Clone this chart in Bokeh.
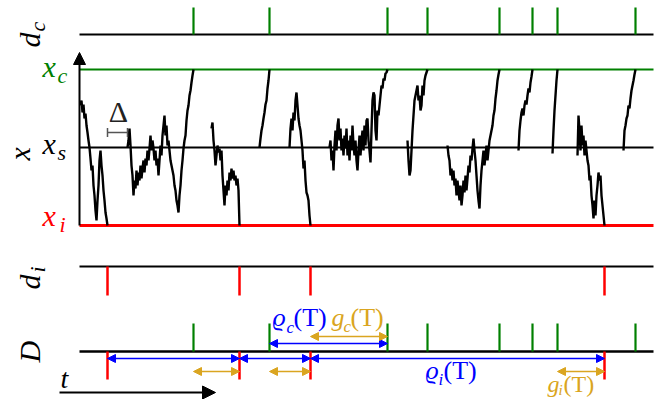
import math
from bokeh.plotting import figure
from bokeh.models import Range1d, Arrow, NormalHead, TeeHead, Label, ColumnDataSource
from bokeh.embed import file_html
from bokeh.resources import INLINE

# ---------------- data (time in arbitrary units, signal levels) ----------------
T_START, T_END = 79, 653
red_events = [107, 239, 310, 604]                         # x hits x_i  (d_i)
green_events = [193, 269, 387, 427, 499, 532, 557, 635]   # x hits x_c  (d_c)
dead_time = 20                                            # Delta
level_i, level_s, level_c = 0, 78, 156                    # x_i, x_s, x_c

restart_times = [80, 127, 211, 259, 289, 329, 407, 447, 518, 552, 577, 623]
trace_1 = [120, 125, 113, 121, 107, 112, 100, 93, 85, 78, 67, 55, 60, 40, 30, 15, 5, 25, 40, 65,
           75, 60, 50, 35, 25, 13, 7, 0]
trace_2 = [78, 85, 97, 80, 60, 50, 30, 45, 37, 55, 40, 53, 45, 60, 47, 57, 65, 53, 67, 60, 75, 65,
           77, 90, 75, 85, 77, 65, 75, 60, 67, 50, 65, 80, 70, 90, 100, 110, 90, 100, 80, 85, 75,
           65, 60, 55, 50, 40, 35, 25, 20, 13, 30, 40, 55, 65, 77, 85, 90, 105, 115, 120, 130, 135,
           143, 150, 156]
trace_3 = [97, 103, 85, 75, 60, 70, 80, 73, 77, 65, 75, 50, 35, 20, 40, 30, 45, 35, 53, 45, 57, 47,
           55, 45, 50, 40, 47, 35, 0]
trace_4 = [78, 87, 95, 100, 107, 113, 121, 125, 137, 145, 156]
trace_5 = [78, 97, 107, 95, 113, 105, 125, 133, 120, 107, 100, 95, 85, 75, 57, 65, 45, 33, 30, 25,
           10, 0]
trace_6 = [78, 85, 65, 75, 55, 80, 95, 75, 100, 107, 85, 97, 75, 87, 70, 90, 77, 97, 70, 85, 65, 90,
           75, 100, 80, 70, 85, 65, 55, 75, 90, 70, 85, 95, 75, 100, 80, 105, 107, 85, 75, 63, 95,
           125, 133, 130, 95, 85, 115, 110, 120, 130, 140, 137, 147, 145, 152, 153, 156]
trace_7 = [85, 65, 50, 55, 75, 95, 110, 125, 130, 135, 140, 125, 130, 115, 120, 140, 130, 145, 150,
           153, 156]
trace_8 = [80, 70, 65, 50, 57, 45, 55, 40, 47, 30, 45, 35, 25, 40, 20, 30, 45, 33, 50, 35, 47, 60,
           53, 70, 65, 77, 87, 75, 65, 50, 35, 25, 17, 40, 55, 65, 75, 60, 70, 80, 65, 75, 85, 90,
           95, 100, 110, 115, 127, 135, 145, 151, 156]
trace_9 = [75, 95, 105, 113, 117, 110, 120, 125, 121, 130, 137, 133, 143, 149, 156]
trace_10 = [72, 95, 115, 130, 145, 156]
trace_11 = [70, 110, 95, 75, 100, 80, 90, 70, 85, 75, 65, 60, 45, 50, 30, 20, 7, 25, 10, 30, 40, 53,
            45, 50, 30, 20, 10, 0]
trace_12 = [75, 95, 100, 107, 110, 120, 117, 127, 135, 140, 145, 151, 156]
traces = [trace_1, trace_2, trace_3, trace_4, trace_5, trace_6, trace_7, trace_8, trace_9,
          trace_10, trace_11, trace_12]

rho_i_spans = [(107, 239), (239, 310), (310, 604)]
rho_c_spans = [(269, 387)]
g_c_spans = [(310, 387)]
g_i_spans = [(193, 239), (269, 310), (557, 604)]

# ---------------- layout (picture pixels) ----------------
W, H = 666, 399
Y_XI, Y_XC = 225, 69
ROW_DC, ROW_DI, ROW_D = 34, 266, 351
GREEN, RED, BLUE, GOLD = "#008000", "#ff0000", "#0000ff", "#DAA520"
SERIF = "Liberation Serif"

p = figure(width=W, height=H, x_range=Range1d(0, W), y_range=Range1d(H, 0),
           output_backend="svg", toolbar_location=None,
           x_axis_type=None, y_axis_type=None, min_border=0)
p.outline_line_color = None
p.grid.visible = False

scale = (level_c - level_i) / (Y_XI - Y_XC)
p.extra_y_ranges = {"sig": Range1d(start=level_i - (H - Y_XI) * scale,
                                   end=level_i + Y_XI * scale)}

# level lines
for lev, col, lw in [(level_c, GREEN, 2.2), (level_s, "black", 1.8), (level_i, RED, 2.8)]:
    p.segment(x0=[T_START], x1=[T_END], y0=[lev], y1=[lev], y_range_name="sig",
              line_color=col, line_width=lw)

# trace
xs = [list(range(s, s + len(v))) for s, v in zip(restart_times, traces)]
p.multi_line(xs=xs, ys=traces, y_range_name="sig", line_color="black", line_width=2.4)

# vertical axis arrow
p.add_layout(Arrow(x_start=T_START, y_start=level_i, x_end=T_START, y_end=level_c + 17 * scale,
                   y_range_name="sig", line_width=2, line_color="black",
                   end=NormalHead(size=12, fill_color="black", line_color="black")))

# row lines
for row, lw in [(ROW_DC, 2), (ROW_DI, 2), (ROW_D, 2.5)]:
    p.segment(x0=[T_START], x1=[T_END], y0=[row], y1=[row], line_color="black", line_width=lw)

# event ticks
p.segment(x0=green_events, x1=green_events, y0=[ROW_DC - 27] * len(green_events),
          y1=[ROW_DC] * len(green_events), line_color=GREEN, line_width=2.2)
p.segment(x0=red_events, x1=red_events, y0=[ROW_DI] * len(red_events),
          y1=[ROW_DI + 29] * len(red_events), line_color=RED, line_width=2.5)
p.segment(x0=green_events, x1=green_events, y0=[ROW_D - 28] * len(green_events),
          y1=[ROW_D] * len(green_events), line_color=GREEN, line_width=2.2)
p.segment(x0=red_events, x1=red_events, y0=[ROW_D] * len(red_events),
          y1=[ROW_D + 28] * len(red_events), line_color=RED, line_width=2.5)


def span_arrows(spans, y, color, size=8):
    src = ColumnDataSource(dict(x0=[a for a, b in spans], x1=[b for a, b in spans],
                                y=[y] * len(spans)))
    p.add_layout(Arrow(x_start="x0", x_end="x1", y_start="y", y_end="y", source=src,
                       line_color=color, line_width=1.6,
                       start=NormalHead(size=size, fill_color=color, line_color=color),
                       end=NormalHead(size=size, fill_color=color, line_color=color)))


span_arrows(rho_i_spans, ROW_D + 7, BLUE)
span_arrows(rho_c_spans, ROW_D - 8, BLUE)
span_arrows(g_c_spans, ROW_D - 15, GOLD)
span_arrows(g_i_spans, ROW_D + 20, GOLD)

# t arrow
p.add_layout(Arrow(x_start=59, x_end=215, y_start=392, y_end=392, line_width=2,
                   end=NormalHead(size=13, fill_color="black", line_color="black")))

# Delta bracket
p.add_layout(Arrow(x_start=red_events[0], x_end=red_events[0] + dead_time, y_start=132, y_end=132,
                   line_color="#555555", line_width=1.5,
                   start=TeeHead(size=9, line_color="#555555", line_width=1.5),
                   end=TeeHead(size=9, line_color="#555555", line_width=1.5)))

SHIFT = 0.28  # Label places glyphs lower than the alphabetic anchor by ~0.28 em


def lab(x, y, text, size, color="black", italic=True, rotated=False, align="left"):
    if rotated:
        x -= SHIFT * size
    else:
        y -= SHIFT * size
    p.add_layout(Label(x=x, y=y, text=text, text_font=SERIF, text_font_size=f"{size}px",
                       text_font_style="italic" if italic else "normal", text_color=color,
                       text_align=align, text_baseline="alphabetic",
                       angle=math.pi / 2 if rotated else 0.0))


# rotated row names
lab(37, 47, "d", 30, rotated=True)
lab(43, 31, "c", 22, rotated=True)
lab(27, 160, "x", 30, rotated=True)
lab(37, 289, "d", 30, rotated=True)
lab(43, 272, "i", 22, rotated=True)
lab(37, 362, "D", 30, rotated=True)

# levels
lab(42, 74, "x", 30, GREEN)
lab(57, 81, "c", 22, GREEN)
lab(42, 151, "x", 30)
lab(57, 158, "s", 22)
lab(42, 223, "x", 30, RED)
lab(59, 230, "i", 22, RED)

lab(118, 119, "\u0394", 30, "#222222", italic=False, align="center")
lab(60, 386, "t", 28)

# interval labels
lab(272, 324, "\u03f1", 26, BLUE)
lab(286, 332, "c", 17, BLUE)
lab(293, 324, "(T)", 26, BLUE, italic=False)
lab(331, 324, "g", 26, GOLD)
lab(343, 331, "c", 17, GOLD)
lab(350, 324, "(T)", 26, GOLD, italic=False)
lab(425, 377, "\u03f1", 26, BLUE)
lab(438, 384, "i", 17, BLUE)
lab(443, 377, "(T)", 26, BLUE, italic=False)
lab(547, 390, "g", 24, GOLD)
lab(558, 394, "i", 15, GOLD)
lab(563, 390, "(T)", 24, GOLD, italic=False)

open("out.html", "w").write(file_html(p, INLINE))
